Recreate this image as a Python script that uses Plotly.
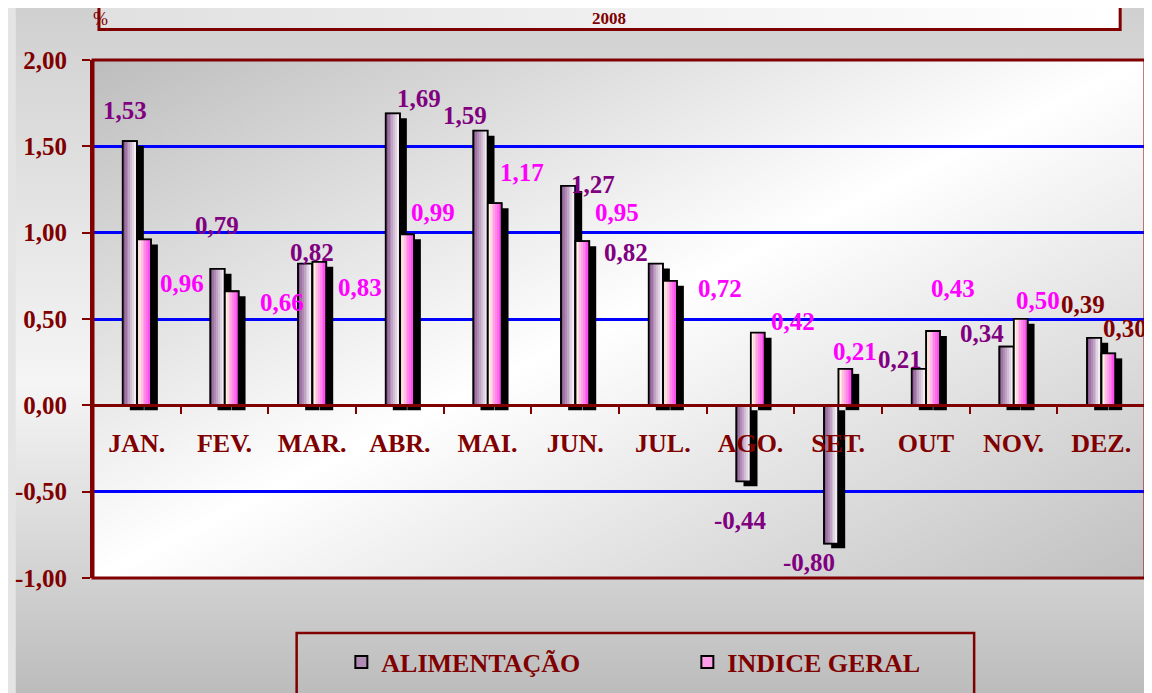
import base64
import plotly.graph_objects as go

# ---------------- data ----------------
months = ["JAN.", "FEV.", "MAR.", "ABR.", "MAI.", "JUN.", "JUL.", "AGO.", "SET.", "OUT", "NOV.", "DEZ."]
alimentacao = [1.53, 0.79, 0.82, 1.69, 1.59, 1.27, 0.82, -0.44, -0.80, 0.21, 0.34, 0.39]
indice_geral = [0.96, 0.66, 0.83, 0.99, 1.17, 0.95, 0.72, 0.42, 0.21, 0.43, 0.50, 0.30]
y_ticks = [-1.0, -0.5, 0.0, 0.5, 1.0, 1.5, 2.0]
y_tick_labels = ["-1,00", "-0,50", "0,00", "0,50", "1,00", "1,50", "2,00"]
series_names = ["ALIMENTAÇÃO", "INDICE GERAL"]
title_year = "2008"
unit_label = "%"

# ---------------- label placement (pixel offsets, styling only) ----------------
alim_dx = [-12, -8, 0, 19, -23, 18, -37, -10, -29, -26, -32, -18]
alim_dy = [31, 43, 11, 15, 15, 2, 11, -39, -19, 10, 13, 33]
ig_dx = [45, 57, 48, 33, 34, 42, 57, 42, 17, 27, 24, 24]
ig_dy = [-44, -11, -25, 22, 31, 29, -7, 11, 18, 43, 19, 25]
alim_colors = ["#800080"] * 11 + ["#800000"]
ig_colors = ["#ff00ff"] * 11 + ["#800000"]

MAROON = "#800000"
FONT = "Liberation Serif"
PAGE_OFF = 8                     # page body margin
W, H = 1152 - PAGE_OFF, 693 - PAGE_OFF
ML, MR, MT, MB = 86 - PAGE_OFF, 7, 60 - PAGE_OFF, 115
PW, PH = W - ML - MR, H - MT - MB


def px2x(px):  # page pixel -> paper x
    return (px - PAGE_OFF - ML) / PW


def py2y(py):  # page pixel -> paper y
    return 1 - (py - PAGE_OFF - MT) / PH


def grad_uri(stops, x1, y1, x2, y2):
    st = "".join(f'<stop offset="{o}" stop-color="{c}"/>' for o, c in stops)
    svg = (f'<svg xmlns="http://www.w3.org/2000/svg" width="100" height="100" viewBox="0 0 100 100" '
           f'preserveAspectRatio="none"><defs><linearGradient id="g" x1="{x1}" y1="{y1}" x2="{x2}" y2="{y2}">'
           f'{st}</linearGradient></defs><rect width="100" height="100" fill="url(#g)"/></svg>')
    return "data:image/svg+xml;base64," + base64.b64encode(svg.encode()).decode()


def lerp(c1, c2, t):
    a = [int(c1[i:i + 2], 16) for i in (1, 3, 5)]
    b = [int(c2[i:i + 2], 16) for i in (1, 3, 5)]
    return "#" + "".join(f"{round(a[k] + (b[k] - a[k]) * t):02x}" for k in range(3))


fig = go.Figure()

BW = 0.16          # bar width (category units)
SH_X = 0.08        # shadow x shift
SH_Y = -0.028      # shadow y shift
N = 7              # gradient slices
INSET = 0.008


def add_series(vals, name, offset, width, c_left, c_right, c_mid):
    fig.add_trace(go.Bar(x=months, y=vals, base=SH_Y, offset=offset + SH_X, width=width,
                         marker=dict(color="black", line=dict(width=0)),
                         showlegend=False, hoverinfo="skip"))
    fig.add_trace(go.Bar(x=months, y=vals, name=name, offset=offset, width=width,
                         marker=dict(color=c_mid, line=dict(color="black", width=2)),
                         showlegend=True, legendgroup=name))
    sw = (width - 2 * INSET) / N
    for k in range(N):
        fig.add_trace(go.Bar(x=months, y=vals, offset=offset + INSET + k * sw, width=sw * 1.05,
                             marker=dict(color=lerp(c_left, c_right, k / (N - 1)), line=dict(width=0)),
                             showlegend=False, hoverinfo="skip", legendgroup=name))
    fig.add_trace(go.Bar(x=months, y=vals, offset=offset, width=width,
                         marker=dict(color="rgba(0,0,0,0)", line=dict(color="black", width=1.6)),
                         showlegend=False, hoverinfo="skip", legendgroup=name))


add_series(alimentacao, series_names[0], -BW, BW, "#8e5c95", "#f2ecf2", "#b08cb4")
add_series(indice_geral, series_names[1], 0.005, BW - 0.005, "#fff6de", "#ff50ef", "#ff9ee8")

annotations = []
for i, m in enumerate(months):
    annotations.append(dict(x=m, y=alimentacao[i], xref="x", yref="y",
                            text=f"{alimentacao[i]:.2f}".replace(".", ","), showarrow=False,
                            xshift=alim_dx[i], yshift=alim_dy[i],
                            font=dict(family=FONT, size=25, color=alim_colors[i], weight="bold")))
    annotations.append(dict(x=m, y=indice_geral[i], xref="x", yref="y",
                            text=f"{indice_geral[i]:.2f}".replace(".", ","), showarrow=False,
                            xshift=ig_dx[i], yshift=ig_dy[i],
                            font=dict(family=FONT, size=25, color=ig_colors[i], weight="bold")))

annotations.append(dict(x=px2x(605), y=py2y(18.5), xref="paper", yref="paper", text=title_year,
                        showarrow=False, xanchor="center", yanchor="middle",
                        font=dict(family=FONT, size=17, color=MAROON, weight="bold")))
annotations.append(dict(x=px2x(94), y=py2y(19), xref="paper", yref="paper", text=unit_label,
                        showarrow=False, xanchor="center", yanchor="middle",
                        font=dict(family=FONT, size=18, color=MAROON)))

images = [
    dict(source=grad_uri([(0, "#d0d0d0"), (0.55, "#f5f5f5"), (1, "#bcbcbc")], 0, 0, 0, 1),
         xref="paper", yref="paper", x=px2x(PAGE_OFF), y=py2y(PAGE_OFF), sizex=W / PW, sizey=H / PH,
         xanchor="left", yanchor="top", sizing="stretch", layer="below"),
    dict(source=grad_uri([(0, "#bdbdbd"), (0.5, "#ffffff"), (1, "#c0c0c0")], 0, 0, 1, 1),
         xref="paper", yref="paper", x=0, y=1, sizex=1, sizey=1,
         xanchor="left", yanchor="top", sizing="stretch", layer="below"),
    dict(source=grad_uri([(0, "#e0e0e0"), (1, "#ffffff")], 0, 0, 1, 0),
         xref="paper", yref="paper", x=px2x(92), y=py2y(-5), sizex=(1120 - 92) / PW, sizey=34 / PH,
         xanchor="left", yanchor="top", sizing="stretch", layer="below"),
]

shapes = [
    dict(type="rect", xref="paper", yref="paper", x0=0, x1=1, y0=0, y1=1,
         line=dict(color=MAROON, width=3), fillcolor="rgba(0,0,0,0)", layer="above"),
    dict(type="rect", xref="paper", yref="paper", x0=px2x(92), x1=px2x(1120), y0=py2y(29.5), y1=py2y(-10),
         line=dict(color=MAROON, width=3), fillcolor="rgba(0,0,0,0)", layer="above"),
    dict(type="rect", xref="paper", yref="paper", x0=px2x(291), x1=px2x(973), y0=py2y(705), y1=py2y(633),
         line=dict(color=MAROON, width=2.5), fillcolor="rgba(0,0,0,0)", layer="above"),
]

fig.update_layout(
    width=W, height=H,
    margin=dict(l=ML, r=MR, t=MT, b=MB),
    paper_bgcolor="#e4e4e4",
    plot_bgcolor="rgba(0,0,0,0)",
    barmode="overlay",
    font=dict(family=FONT, color=MAROON),
    xaxis=dict(type="category", categoryorder="array", categoryarray=months, range=[-0.5, 11.5],
               anchor="free", position=1 / 3, showline=True, linecolor=MAROON, linewidth=2.5,
               ticks="outside", tickson="boundaries", ticklen=7, tickwidth=2, tickcolor=MAROON,
               tickfont=dict(family=FONT, size=26, color=MAROON, weight="bold"),
               showgrid=False, zeroline=False, ticklabelstandoff=14),
    yaxis=dict(range=[-1, 2], tickvals=y_ticks, ticktext=y_tick_labels, showline=True,
               linecolor=MAROON, linewidth=3, ticks="outside", ticklen=8, tickwidth=2, tickcolor=MAROON,
               showgrid=True, gridcolor="#0000ff", gridwidth=2.5, zeroline=False,
               tickfont=dict(family=FONT, size=25, color=MAROON, weight="bold"), ticklabelstandoff=10),
    legend=dict(orientation="h", x=px2x(336), y=py2y(662), xanchor="left", yanchor="middle",
                bgcolor="rgba(0,0,0,0)", borderwidth=0, entrywidth=301, entrywidthmode="pixels",
                font=dict(family=FONT, size=26, color=MAROON, weight="bold")),
    annotations=annotations,
    images=images,
    shapes=shapes,
)

fig.write_html("out.html")
